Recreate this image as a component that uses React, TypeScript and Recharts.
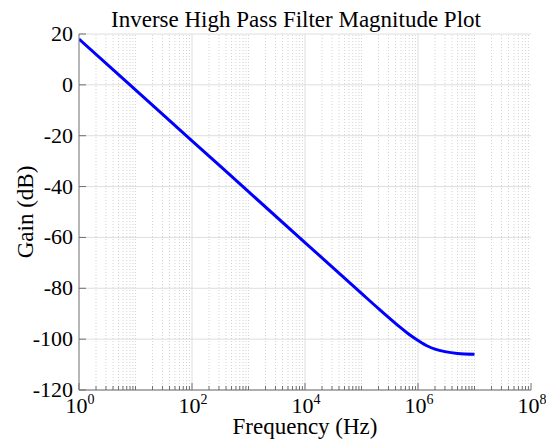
import {
  CartesianGrid,
  Line,
  LineChart,
  ReferenceLine,
  XAxis,
  YAxis,
} from "recharts";

const FREQ_HZ = [1, 10, 100, 1e3, 1e4, 1e5, 2e5, 3e5, 5e5, 7e5, 1e6, 1.5e6, 2e6, 3e6, 5e6, 1e7];
const GAIN_DB = [18, -2, -22, -42, -62, -82, -88, -91.4, -95.6, -98.2, -100.5, -102.8, -103.9, -104.9, -105.6, -105.9];

const X_MAJOR = [1, 1e2, 1e4, 1e6, 1e8];
const X_EXPONENTS = ["0", "2", "4", "6", "8"];
const Y_TICKS = [-120, -100, -80, -60, -40, -20, 0, 20];

const TITLE = "Inverse High Pass Filter Magnitude Plot";
const X_LABEL = "Frequency (Hz)";
const Y_LABEL = "Gain (dB)";

// minor log ticks: 2..9 in every decade plus the odd decades
const X_MINOR: number[] = [];
for (let d = 0; d < 8; d++) {
  const base = Math.pow(10, d);
  for (let k = 1; k <= 9; k++) {
    const v = k * base;
    if (!X_MAJOR.includes(v)) X_MINOR.push(v);
  }
}
const X_ALL = [...X_MAJOR, ...X_MINOR].sort((a, b) => a - b);

const data = FREQ_HZ.map((f, i) => ({ f, gain: GAIN_DB[i] }));

const FONT = '"Liberation Serif", "Times New Roman", serif';
const AXIS = "#6e6e6e";
const GRID = "#dedede";
const txt = { fontFamily: FONT, fill: "#000" };

const BottomTick = (props: any) => {
  const { x, y, payload } = props;
  const idx = X_MAJOR.indexOf(payload.value);
  const major = idx >= 0;
  return (
    <g>
      <line x1={x} x2={x} y1={y} y2={y - (major ? 7 : 4)} stroke={AXIS} />
      {major && (
        <text x={x + 1} y={y + 23} textAnchor="middle" style={{ ...txt, fontSize: 22 }}>
          10
          <tspan dy={-9} style={{ fontSize: 14 }}>
            {X_EXPONENTS[idx]}
          </tspan>
        </text>
      )}
    </g>
  );
};

const TopTick = (props: any) => {
  const { x, y, payload } = props;
  const major = X_MAJOR.includes(payload.value);
  return <line x1={x} x2={x} y1={y} y2={y + (major ? 7 : 4)} stroke={AXIS} />;
};

const LeftTick = (props: any) => {
  const { x, y, payload } = props;
  return (
    <g>
      <line x1={x} x2={x + 7} y1={y} y2={y} stroke={AXIS} />
      <text x={x - 6} y={y + 7} textAnchor="end" style={{ ...txt, fontSize: 22 }}>
        {payload.value}
      </text>
    </g>
  );
};

const RightTick = (props: any) => {
  const { x, y } = props;
  return <line x1={x} x2={x - 7} y1={y} y2={y} stroke={AXIS} />;
};

export default function App() {
  return (
    <div style={{ position: "absolute", left: 0, top: 0, width: 546, height: 441, background: "#fff" }}>
      <LineChart
        width={546}
        height={441}
        data={data}
        margin={{ top: 34, right: 15, bottom: 0, left: 19 }}
      >
        <CartesianGrid xAxisId="b" yAxisId="l" vertical={false} stroke={GRID} />
        <XAxis
          xAxisId="b"
          dataKey="f"
          type="number"
          scale="log"
          domain={[1, 1e8]}
          ticks={X_ALL}
          interval={0}
          height={51}
          tickSize={0}
          tickMargin={0}
          tickLine={false}
          axisLine={{ stroke: AXIS }}
          tick={<BottomTick />}
          allowDataOverflow
        />
        <XAxis
          xAxisId="t"
          orientation="top"
          dataKey="f"
          type="number"
          scale="log"
          domain={[1, 1e8]}
          ticks={X_ALL}
          interval={0}
          height={0}
          tickSize={0}
          tickMargin={0}
          tickLine={false}
          axisLine={{ stroke: AXIS }}
          tick={<TopTick />}
          allowDataOverflow
        />
        <YAxis
          yAxisId="l"
          type="number"
          domain={[-120, 20]}
          ticks={Y_TICKS}
          interval={0}
          width={60}
          tickSize={0}
          tickMargin={0}
          tickLine={false}
          axisLine={{ stroke: AXIS }}
          tick={<LeftTick />}
        />
        <YAxis
          yAxisId="r"
          orientation="right"
          type="number"
          domain={[-120, 20]}
          ticks={Y_TICKS}
          interval={0}
          width={0}
          tickSize={0}
          tickMargin={0}
          tickLine={false}
          axisLine={{ stroke: AXIS }}
          tick={<RightTick />}
        />
        {X_MINOR.map((v) => (
          <ReferenceLine
            key={"m" + v}
            xAxisId="b"
            yAxisId="l"
            x={v}
            stroke="#d4d4d4"
            strokeDasharray="1 2"
          />
        ))}
        {X_MAJOR.slice(1, -1).map((v) => (
          <ReferenceLine key={"M" + v} xAxisId="b" yAxisId="l" x={v} stroke={GRID} />
        ))}
        <Line
          xAxisId="b"
          yAxisId="l"
          dataKey="gain"
          type="monotone"
          stroke="#0000ff"
          strokeWidth={3}
          dot={false}
          isAnimationActive={false}
        />
      </LineChart>
      <svg
        width={546}
        height={441}
        style={{ position: "absolute", left: 0, top: 0, pointerEvents: "none" }}
      >
        <text x={296} y={27} textAnchor="middle" style={{ ...txt, fontSize: 23 }}>
          {TITLE}
        </text>
        <text x={305} y={434} textAnchor="middle" style={{ ...txt, fontSize: 23 }}>
          {X_LABEL}
        </text>
        <text
          x={33}
          y={212}
          textAnchor="middle"
          style={{ ...txt, fontSize: 23 }}
          transform="rotate(-90 33 212)"
        >
          {Y_LABEL}
        </text>
      </svg>
    </div>
  );
}
